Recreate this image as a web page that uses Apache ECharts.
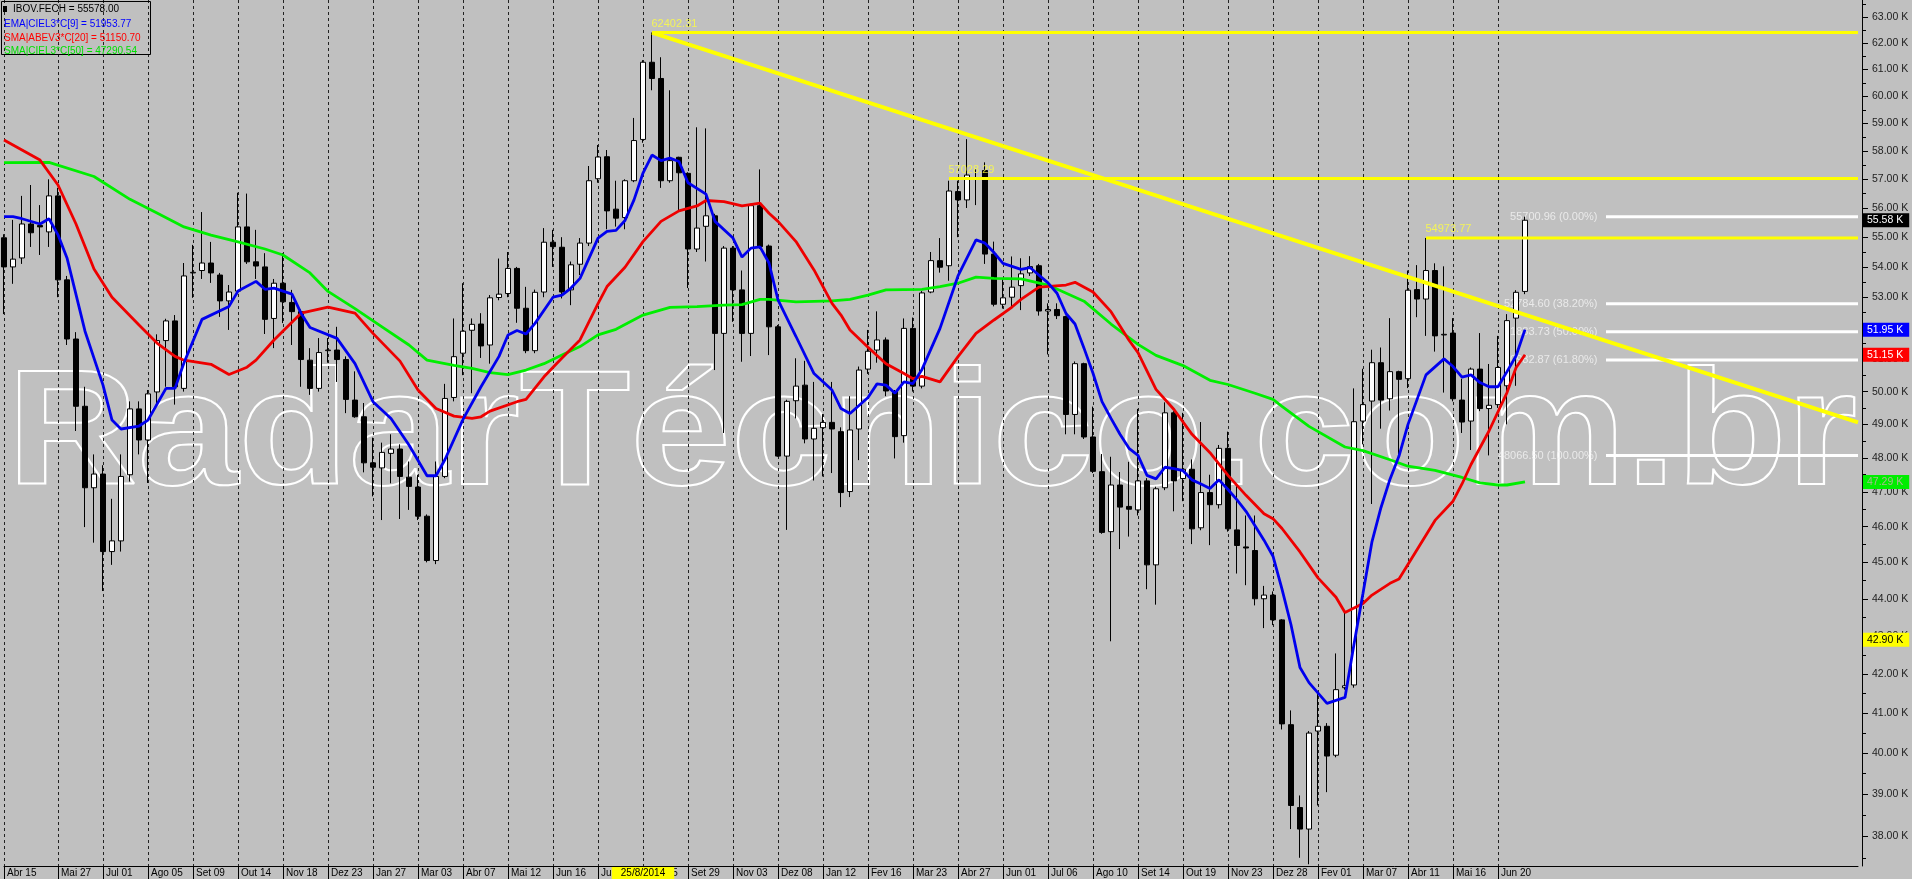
<!DOCTYPE html>
<html>
<head>
<meta charset="utf-8">
<title>IBOV semanal</title>
<script src="https://cdn.jsdelivr.net/npm/echarts@6.0.0/dist/echarts.min.js"></script>
<style>
  html, body { margin: 0; padding: 0; background: #c0c0c0; }
  #chart { width: 1912px; height: 879px; }
</style>
</head>
<body>
<div id="chart"></div>
<script>
// barras semanais, barra 0 = 15/04/2013 ... barra 169 = 11/07/2016 (valores em mil pontos)
const open = [
  54.98, 54.00, 54.30, 55.45, 55.40, 55.18, 56.42, 53.57, 51.65, 49.55,
  47.12, 47.52, 45.30, 45.60, 47.50, 49.47, 48.53, 49.99, 51.60, 52.23,
  50.10, 53.80, 53.88, 54.13, 53.73, 52.88, 53.20, 55.35, 54.17, 54.00,
  52.31, 53.46, 52.83, 52.53, 50.98, 50.10, 51.28, 51.30, 51.00, 49.74,
  49.23, 47.85, 47.70, 48.13, 48.26, 47.43, 47.14, 46.30, 45.05, 47.45,
  49.82, 51.20, 51.93, 52.13, 51.46, 52.99, 53.12, 53.95, 52.64, 51.28,
  53.17, 54.83, 54.66, 53.24, 54.09, 54.80, 57.02, 57.80, 55.96, 55.67,
  56.95, 58.42, 61.27, 60.66, 56.95, 57.78, 57.21, 54.60, 55.37, 55.73,
  51.83, 54.63, 53.24, 51.83, 56.08, 54.70, 52.04, 48.05, 49.72, 50.20,
  48.56, 48.90, 49.06, 48.78, 47.01, 48.86, 50.70, 51.30, 51.62, 50.00,
  48.66, 51.99, 50.17, 53.17, 54.21, 54.04, 56.57, 56.28, 57.00, 57.31,
  54.43, 52.77, 53.00, 53.38, 53.80, 54.04, 52.55, 52.60, 52.37, 49.30,
  50.87, 48.62, 47.59, 45.86, 47.20, 46.58, 46.48, 47.32, 44.93, 47.12,
  49.35, 47.39, 47.66, 45.97, 46.98, 46.63, 48.28, 45.91, 45.43, 45.33,
  44.00, 44.10, 43.43, 40.71, 38.68, 38.17, 40.55, 40.67, 39.95, 41.65,
  41.72, 49.10, 49.71, 50.90, 49.78, 50.62, 50.40, 53.25, 52.94, 53.88,
  51.78, 51.84, 49.74, 49.10, 50.70, 49.48, 49.60, 50.18, 52.32, 53.19
];
const close = [
  54.00, 54.26, 55.45, 55.15, 55.35, 56.42, 53.57, 51.65, 49.55, 47.12,
  47.52, 45.30, 45.60, 47.45, 49.47, 48.53, 49.93, 51.60, 52.23, 50.15,
  53.70, 53.82, 54.13, 53.80, 52.88, 53.17, 55.35, 54.17, 54.03, 52.28,
  53.46, 52.85, 52.53, 51.00, 50.10, 51.22, 51.30, 51.00, 49.76, 49.23,
  47.85, 47.72, 48.16, 48.26, 47.45, 47.16, 46.30, 45.05, 47.45, 49.79,
  51.09, 51.90, 52.12, 51.43, 52.98, 53.10, 53.95, 52.64, 51.28, 53.16,
  54.83, 54.68, 53.17, 54.07, 54.80, 56.95, 57.79, 55.90, 55.65, 56.95,
  58.38, 61.27, 60.66, 56.95, 57.66, 57.23, 54.60, 55.31, 55.73, 51.83,
  54.63, 53.24, 51.83, 56.08, 54.68, 52.04, 48.05, 49.70, 50.17, 48.56,
  48.88, 49.06, 48.86, 46.98, 48.83, 50.67, 51.26, 51.62, 50.02, 48.63,
  51.99, 50.17, 53.14, 54.21, 53.99, 56.59, 56.28, 57.15, 57.03, 54.43,
  52.77, 52.98, 53.33, 53.77, 54.01, 52.55, 52.60, 52.40, 49.30, 50.87,
  48.62, 47.60, 45.84, 47.20, 46.56, 46.50, 47.32, 44.93, 47.09, 49.35,
  47.32, 47.66, 45.94, 46.98, 46.63, 48.28, 45.94, 45.47, 45.40, 44.00,
  44.10, 43.43, 40.73, 38.73, 38.17, 40.50, 40.67, 39.93, 41.60, 41.70,
  49.08, 49.60, 50.90, 49.74, 50.62, 50.38, 53.23, 52.94, 53.88, 51.75,
  51.80, 49.78, 49.07, 50.70, 49.48, 49.58, 50.75, 52.24, 53.16, 55.578
];
const low = [
  52.45, 53.44, 54.10, 54.67, 54.40, 54.67, 53.00, 51.46, 48.80, 45.99,
  45.55, 44.21, 44.93, 45.30, 47.30, 48.10, 47.26, 49.60, 50.15, 49.60,
  50.00, 52.98, 53.60, 53.47, 52.36, 51.94, 53.10, 54.10, 53.60, 51.81,
  51.36, 52.16, 51.46, 50.15, 49.90, 50.00, 50.90, 50.30, 49.34, 49.20,
  47.57, 46.87, 46.19, 47.25, 46.22, 46.48, 46.19, 45.00, 44.95, 47.40,
  49.70, 50.51, 49.95, 51.05, 50.87, 52.90, 53.00, 52.17, 51.20, 51.20,
  53.00, 54.00, 52.96, 52.74, 53.73, 54.70, 56.88, 55.27, 55.36, 55.27,
  56.90, 58.30, 60.22, 56.70, 56.88, 55.93, 53.30, 54.50, 54.18, 50.67,
  48.74, 52.20, 50.93, 51.11, 54.60, 51.14, 48.03, 45.91, 49.18, 48.43,
  47.33, 47.45, 47.55, 46.56, 46.85, 47.93, 50.55, 50.90, 49.86, 47.98,
  48.45, 50.00, 50.10, 53.13, 53.81, 53.54, 55.00, 56.00, 56.10, 54.10,
  52.70, 52.63, 52.68, 52.58, 53.70, 52.40, 51.16, 52.29, 48.70, 48.70,
  48.56, 47.55, 45.80, 42.86, 45.37, 45.72, 46.32, 44.26, 43.84, 47.05,
  46.44, 46.73, 45.51, 45.90, 45.48, 46.52, 45.86, 44.69, 44.37, 43.82,
  43.21, 43.29, 40.59, 38.17, 37.50, 37.35, 38.73, 39.05, 39.90, 41.60,
  41.65, 48.40, 46.65, 48.87, 49.42, 48.06, 50.11, 52.35, 51.75, 51.25,
  49.97, 49.70, 48.74, 48.23, 49.40, 48.07, 49.50, 49.00, 50.18, 53.10
];
const high = [
  55.10, 55.59, 56.42, 56.80, 56.10, 57.00, 56.70, 53.70, 51.87, 50.15,
  48.10, 47.78, 46.80, 48.10, 49.70, 49.70, 50.05, 51.80, 52.30, 52.42,
  54.13, 54.74, 55.86, 54.84, 53.80, 53.40, 56.53, 56.50, 55.25, 54.46,
  53.60, 54.46, 53.24, 52.60, 51.36, 51.68, 51.68, 52.04, 51.10, 50.63,
  49.65, 48.60, 48.45, 48.70, 48.40, 47.89, 47.50, 46.35, 47.89, 50.24,
  52.31, 53.46, 52.31, 52.48, 53.07, 54.28, 54.50, 54.00, 53.34, 53.25,
  55.31, 55.25, 55.00, 54.18, 54.97, 57.47, 58.22, 58.04, 56.95, 57.00,
  59.20, 61.35, 62.40231, 61.46, 60.22, 57.80, 57.25, 58.86, 58.82, 55.80,
  54.70, 54.70, 53.88, 56.15, 57.35, 54.75, 52.10, 49.75, 51.04, 50.96,
  50.30, 49.31, 50.30, 48.91, 49.86, 50.78, 51.94, 52.54, 51.70, 50.05,
  52.31, 52.34, 53.20, 54.50, 54.97, 56.95, 56.95, 58.43, 57.35, 57.60,
  54.85, 53.62, 54.35, 54.29, 54.36, 54.10, 52.80, 52.80, 52.40, 50.94,
  50.90, 49.54, 48.11, 48.03, 47.58, 47.88, 49.47, 47.40, 47.15, 49.67,
  49.40, 49.35, 47.95, 49.07, 47.50, 48.38, 48.78, 47.20, 46.32, 46.32,
  44.35, 44.20, 43.45, 41.07, 38.97, 40.55, 41.50, 40.75, 42.54, 43.66,
  50.10, 50.71, 51.31, 51.38, 52.32, 50.65, 53.88, 54.06, 54.97377, 54.12,
  54.02, 52.32, 50.40, 50.75, 51.84, 50.86, 51.75, 52.45, 53.23, 55.70096
];

// médias: [barra, valor]
const ema9 = [
  [0,55.70],[1,55.70],[2,55.63],[4,55.45],[5,55.63],[6,55.08],[7,54.30],[9,51.90],[11,50.20],[12,49.13],
  [13,48.86],[15,48.95],[16,49.13],[18,50.10],[19,50.10],[20,50.90],[22,52.28],[25,52.70],[26,53.20],[28,53.52],
  [29,53.26],[30,53.30],[32,53.10],[33,52.48],[34,52.02],[37,51.67],[39,50.87],[41,49.69],[43,49.18],[45,48.38],
  [47,47.47],[48,47.47],[49,47.95],[51,49.15],[53,50.15],[55,51.10],[56,51.78],[57,51.92],[58,51.81],[59,52.15],
  [61,53.00],[62,53.07],[63,53.30],[64,53.62],[66,54.97],[67,55.20],[68,55.23],[69,55.57],[70,56.28],[71,57.22],
  [72,57.86],[73,57.66],[74,57.75],[75,57.63],[76,56.88],[78,56.48],[79,55.54],[81,54.97],[82,54.33],[83,54.63],
  [84,54.67],[85,54.13],[86,52.91],[88,51.73],[90,50.56],[92,50.05],[93,49.48],[94,49.33],[96,49.82],[97,50.24],
  [98,50.20],[99,49.95],[100,50.30],[101,50.25],[102,50.69],[104,51.99],[106,53.70],[108,54.91],[109,54.80],[110,54.48],
  [111,54.12],[113,53.92],[114,53.98],[116,53.47],[117,53.13],[118,52.47],[119,52.13],[120,51.36],[121,50.57],[122,49.69],
  [123,49.18],[124,48.70],[125,48.28],[126,48.07],[127,47.48],[128,47.38],[129,47.72],[130,47.68],[131,47.62],[132,47.35],
  [133,47.23],[134,47.10],[135,47.35],[136,47.07],[137,46.77],[138,46.44],[139,46.03],[140,45.62],[141,45.17],[142,44.26],
  [143,43.30],[144,42.17],[145,41.78],[147,41.25],[149,41.40],[150,42.78],[151,44.15],[152,45.58],[153,46.55],[154,47.37],
  [155,48.05],[156,49.00],[158,50.52],[160,51.02],[161,50.78],[162,50.45],[163,50.52],[164,50.28],[165,50.15],[166,50.15],
  [167,50.62],[168,51.11],[169,51.95]
];
const sma20 = [
  [0,58.40],[2,58.04],[4,57.68],[6,56.80],[8,55.45],[10,53.93],[12,53.00],[15,52.10],[17,51.52],[19,51.10],
  [20,50.98],[23,50.85],[25,50.53],[27,50.76],[28,50.98],[30,51.62],[33,52.48],[36,52.68],[39,52.48],[41,51.83],
  [44,50.95],[46,50.05],[48,49.48],[50,49.25],[52,49.18],[53,49.23],[54,49.40],[57,49.69],[58,49.76],[60,50.46],
  [62,51.05],[64,51.62],[66,52.79],[67,53.35],[69,53.99],[71,54.85],[73,55.54],[75,55.90],[77,56.07],[78,56.26],
  [80,56.22],[82,56.07],[84,56.17],[85,55.82],[86,55.54],[88,54.85],[90,53.90],[92,52.80],[93,52.42],[94,51.94],
  [96,51.39],[98,50.87],[100,50.56],[101,50.40],[102,50.47],[104,50.30],[106,51.09],[108,51.83],[110,52.26],[112,52.68],
  [113,52.93],[115,53.33],[118,53.40],[119,53.49],[121,53.17],[123,52.53],[125,51.61],[126,51.22],[128,50.07],[130,49.45],
  [132,48.70],[134,48.15],[136,47.48],[138,46.90],[140,46.37],[141,46.23],[142,45.95],[144,45.29],[146,44.57],[148,44.04],
  [149,43.63],[151,43.87],[152,44.10],[154,44.42],[155,44.54],[157,45.35],[159,46.18],[161,46.73],[162,47.23],[163,47.80],
  [165,48.80],[167,49.97],[168,50.74],[169,51.15]
];
const sma50 = [
  [0,57.59],[5,57.60],[10,57.10],[14,56.30],[17,55.83],[20,55.35],[23,55.07],[26,54.84],[29,54.60],[31,54.40],
  [34,53.80],[36,53.19],[39,52.63],[42,52.04],[45,51.46],[47,50.98],[50,50.82],[52,50.72],[54,50.59],[56,50.53],
  [58,50.67],[60,50.87],[62,51.14],[64,51.41],[66,51.78],[68,51.96],[71,52.42],[74,52.67],[77,52.69],[80,52.74],
  [82,52.76],[84,52.93],[85,52.93],[88,52.85],[92,52.88],[94,52.93],[96,53.07],[98,53.24],[102,53.26],[104,53.35],
  [106,53.46],[108,53.66],[110,53.62],[113,53.60],[116,53.40],[120,52.87],[123,52.13],[126,51.48],[128,51.13],[131,50.81],
  [134,50.35],[136,50.22],[139,49.95],[141,49.76],[142,49.55],[145,48.94],[149,48.32],[151,48.21],[154,47.94],[156,47.75],
  [159,47.63],[162,47.42],[164,47.26],[166,47.20],[167,47.20],[169,47.29]
];

// eixo x: barras com rótulo e seus textos
const tickBars = [0, 6, 11, 16, 21, 26, 31, 36, 41, 46, 51, 56, 61, 66, 71, 76, 81, 86, 91, 96,
  101, 106, 111, 116, 121, 126, 131, 136, 141, 146, 151, 156, 161, 166];
const tickLabels = ['Abr 15', 'Mai 27', 'Jul 01', 'Ago 05', 'Set 09', 'Out 14', 'Nov 18', 'Dez 23',
  'Jan 27', 'Mar 03', 'Abr 07', 'Mai 12', 'Jun 16', 'Jul 21', 'Ago 25', 'Set 29', 'Nov 03', 'Dez 08',
  'Jan 12', 'Fev 16', 'Mar 23', 'Abr 27', 'Jun 01', 'Jul 06', 'Ago 10', 'Set 14', 'Out 19', 'Nov 23',
  'Dez 28', 'Fev 01', 'Mar 07', 'Abr 11', 'Mai 16', 'Jun 20'];
const cursorBar = 71;
const cursorLabel = '25/8/2014';
const slotCount = 207;

// eixo y (log): rótulos a cada 1 mil, traços menores a cada 500
const yTicks = [38, 39, 40, 41, 42, 43, 44, 45, 46, 47, 48, 49, 50, 51, 52, 53, 54, 55, 56, 57, 58, 59, 60, 61, 62, 63];
const yMinor = [37.5, 38.5, 39.5, 40.5, 41.5, 42.5, 43.5, 44.5, 45.5, 46.5, 47.5, 48.5, 49.5, 50.5, 51.5,
  52.5, 53.5, 54.5, 55.5, 56.5, 57.5, 58.5, 59.5, 60.5, 61.5, 62.5, 63.5];
const yMin = 37.31, yMax = 63.67;

// objetos desenhados: linhas amarelas e Fibonacci
const trendLine = [[72, 62.40231], [206, 49.06]];
const hLines = [
  { from: 72, value: 62.40231, text: '62402.31' },
  { from: 105, value: 57.02829, text: '57028.29' },
  { from: 158, value: 54.97377, text: '54973.77' }
];
const fibFrom = 178;
const fibValues = [55.70096, 52.78460, 51.88373, 50.98287, 48.06650];
const fibTexts = ['55700.96 (0.00%)', '52784.60 (38.20%)', '51883.73 (50.00%)', '50982.87 (61.80%)', '48066.50 (100.00%)'];

// marcadores no eixo da direita
const tagValues = [55.578, 51.95377, 51.1507, 47.29054, 42.90];
const tagTexts = ['55.58 K', '51.95 K', '51.15 K', '47.29 K', '42.90 K'];
const tagBg = ['#000000', '#0000ff', '#ff0000', '#00ee00', '#ffff00'];
const tagFg = ['#ffffff', '#ffffff', '#ffffff', '#a8b890', '#000000'];

const FONT = '"Liberation Sans", Arial, sans-serif';

const chart = echarts.init(document.getElementById('chart'));

const cats = [];
for (let i = 0; i < slotCount; i++) {
  const k = tickBars.indexOf(i);
  cats.push(k >= 0 ? tickLabels[k] : 'w' + i);
}
const tickSet = new Set(tickBars);
const candles = open.map((o, i) => [o, close[i], low[i], high[i]]);

const series = [
  {
    name: 'IBOV',
    type: 'candlestick',
    data: candles,
    barWidth: 5,
    clip: false,
    z: 3,
    itemStyle: {
      color: '#ffffff', color0: '#000000',
      borderColor: '#000000', borderColor0: '#000000', borderWidth: 1
    },
    markLine: {
      silent: true,
      symbol: ['none', 'none'],
      lineStyle: { color: 'transparent', width: 0 },
      label: { position: 'end', distance: 5, fontSize: 10.5, fontFamily: FONT, padding: [2, 6, 1, 4] },
      data: tagValues.map((v, i) => ({
        yAxis: v,
        label: { formatter: tagTexts[i], backgroundColor: tagBg[i], color: tagFg[i] }
      }))
    }
  },
  ...fibValues.map(v => ({
    type: 'line', data: [[fibFrom, v], [206, v]], symbol: 'none', z: 1,
    lineStyle: { color: '#ffffff', width: 3 }
  })),
  { name: 'SMA50', type: 'line', data: sma50, symbol: 'none', z: 4, lineStyle: { color: '#00ee00', width: 2.8 } },
  { name: 'SMA20', type: 'line', data: sma20, symbol: 'none', z: 4, lineStyle: { color: '#ee0000', width: 2.8 } },
  { name: 'EMA9', type: 'line', data: ema9, symbol: 'none', z: 4, lineStyle: { color: '#0000ee', width: 2.8 } },
  {
    type: 'line', data: trendLine, symbol: 'none', z: 5,
    lineStyle: { color: '#ffff00', width: 4 }
  },
  ...hLines.map(h => ({
    type: 'line', data: [[h.from, h.value], [206, h.value]], symbol: 'none', z: 5,
    lineStyle: { color: '#ffff00', width: 3 }
  })),
  {
    type: 'scatter', z: 6, symbolSize: 1, silent: true,
    itemStyle: { color: 'transparent' },
    label: { show: true, formatter: '{b}', position: [0, -14], color: '#ffff40', fontSize: 11, fontFamily: FONT },
    data: hLines.map(h => ({ name: h.text, value: [h.from, h.value] }))
  },
  {
    type: 'scatter', z: 2, symbolSize: 1, silent: true,
    itemStyle: { color: 'transparent' },
    label: { show: true, formatter: '{b}', position: 'left', distance: 8, color: '#f4f4f4', fontSize: 11, fontFamily: FONT },
    data: fibValues.map((v, i) => ({ name: fibTexts[i], value: [fibFrom, v] }))
  }
];

const legendLines = [
  { text: 'IBOV.FECH = 55578.00', color: '#000000', x: 13, y: 9 },
  { text: 'EMA|CIEL3*C[9] = 51953.77', color: '#0000ff', x: 4, y: 24 },
  { text: 'SMA|ABEV3*C[20] = 51150.70', color: '#ff0000', x: 4, y: 38 },
  { text: 'SMA|CIEL3*C[50] = 47290.54', color: '#00e000', x: 4, y: 51 }
];

chart.setOption({
  animation: false,
  backgroundColor: '#c0c0c0',
  grid: { left: 4, right: 54, top: 0, bottom: 13, show: false },
  xAxis: [
    {
      type: 'category', data: cats, boundaryGap: false, position: 'bottom',
      axisLine: { lineStyle: { color: '#000', width: 1 } },
      axisTick: { interval: i => tickSet.has(i), length: 13, lineStyle: { color: '#000' } },
      axisLabel: {
        interval: i => tickSet.has(i), align: 'left', margin: 2, padding: [0, 0, 0, 3],
        fontSize: 10, color: '#000', fontFamily: FONT
      },
      splitLine: { show: true, interval: i => tickSet.has(i), lineStyle: { color: '#222', type: [3, 3], width: 1 } }
    },
    {
      type: 'category', data: cats, boundaryGap: false, position: 'bottom',
      axisLine: { show: false }, axisTick: { show: false }, splitLine: { show: false },
      axisLabel: {
        interval: i => i === cursorBar, formatter: () => cursorLabel, align: 'center', margin: 1,
        padding: [1, 9, 1, 9], backgroundColor: '#ffff00', color: '#000', fontSize: 10, fontFamily: FONT
      }
    }
  ],
  yAxis: [
    {
      type: 'log', logBase: 10, min: yMin, max: yMax, position: 'right', offset: 4,
      axisLine: { show: true, lineStyle: { color: '#000' } },
      axisTick: { show: false }, axisLabel: { show: false }, splitLine: { show: false }
    },
    {
      type: 'value', min: Math.log(yMin), max: Math.log(yMax), position: 'right', offset: 4,
      axisLine: { show: false }, splitLine: { show: false },
      axisTick: { show: true, customValues: yTicks.map(Math.log), length: 6, lineStyle: { color: '#000' } },
      axisLabel: {
        customValues: yTicks.map(Math.log), formatter: v => Math.exp(v).toFixed(2) + ' K',
        margin: 10, fontSize: 10.5, color: '#222', fontFamily: FONT
      }
    },
    {
      type: 'value', min: Math.log(yMin), max: Math.log(yMax), position: 'right', offset: 4,
      axisLine: { show: false }, splitLine: { show: false },
      axisTick: { show: true, customValues: yMinor.map(Math.log), length: 4, lineStyle: { color: '#000' } },
      axisLabel: { show: false }
    }
  ],
  graphic: [
    {
      type: 'text', x: 7, y: 439, scaleX: 1.11, z: 0, silent: true,
      style: {
        text: 'RadarTécnico.com.br', font: 'bold 163px ' + FONT,
        fill: 'none', stroke: '#ffffff', lineWidth: 2, align: 'left', verticalAlign: 'middle'
      }
    },
    {
      type: 'rect', z: 10, silent: true,
      shape: { x: 1.5, y: 1.5, width: 149, height: 53 },
      style: { fill: 'none', stroke: '#000', lineWidth: 1 }
    },
    {
      type: 'rect', z: 10, silent: true,
      shape: { x: 3, y: 6, width: 4, height: 6 },
      style: { fill: '#000' }
    },
    ...legendLines.map(l => ({
      type: 'text', z: 10, silent: true, x: l.x, y: l.y,
      style: { text: l.text, fill: l.color, font: '10px ' + FONT, verticalAlign: 'middle' }
    }))
  ],
  series: series
});
</script>
</body>
</html>
